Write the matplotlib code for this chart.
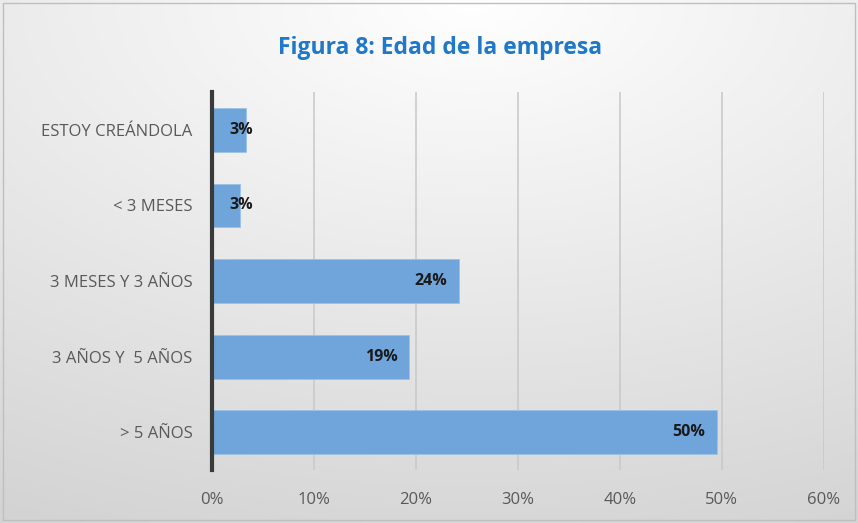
import matplotlib.pyplot as plt
import matplotlib as mpl
import numpy as np

plt.rcParams['font.family'] = ['Open Sans', 'DejaVu Sans']

# Data
categorias = ["ESTOY CREÁNDOLA", "< 3 MESES", "3 MESES Y 3 AÑOS", "3 AÑOS Y  5 AÑOS", "> 5 AÑOS"]
valores = [3.3, 2.8, 24.2, 19.3, 49.5]
etiquetas = ["3%", "3%", "24%", "19%", "50%"]
ticks = [0, 10, 20, 30, 40, 50, 60]

fig = plt.figure(figsize=(8.58, 5.23), dpi=100)

# gradient background (white at top, grey at bottom)
bg = fig.add_axes([0, 0, 1, 1], zorder=-10)
yy, xx = np.mgrid[0:1:200j, 0:1:300j]
dist = np.sqrt(((xx - 0.55) * 1.0) ** 2 + (yy * 1.1) ** 2)
shade = 1.0 - 0.17 * np.clip(dist, 0, 1.2) / 1.2
img = np.dstack([shade, shade, shade])
bg.imshow(img, aspect='auto', extent=[0, 1, 1, 0])
bg.set_xlim(0, 1)
bg.set_ylim(1, 0)
bg.axis('off')
bg.add_patch(mpl.patches.Rectangle((0.004, 0.006), 0.992, 0.988, fill=False,
                                   edgecolor='#bfbfbf', lw=1))

ax = fig.add_axes([0.247, 0.101, 0.713, 0.723])
ax.patch.set_alpha(0)

y = np.arange(len(categorias))
bars = ax.barh(y, valores, height=0.58, color='#6fa5da', edgecolor='#9cc2e8', lw=0.6, zorder=3)

# labels sit just inside the bar end; tiny bars get pushed out a bit (like Excel)
for b, lab in zip(bars, etiquetas):
    xpos = max(b.get_width() - 1.1, 4.0)
    ax.text(xpos, b.get_y() + b.get_height() / 2, lab,
            ha='right', va='center', fontsize=11.5, fontweight='bold', color='#1a1a1a', zorder=4)

ax.set_ylim(len(categorias) - 0.5, -0.5)
ax.set_xlim(0, 60)
ax.set_xticks(ticks)
ax.set_xticklabels([f"{t}%" for t in ticks])
ax.set_yticks(y)
ax.set_yticklabels(categorias)

ax.grid(axis='x', color='#c8c8c8', lw=1.1, zorder=0)
ax.tick_params(axis='both', length=0, labelsize=12, colors='#595959')
ax.tick_params(axis='x', pad=16)
ax.tick_params(axis='y', pad=14)
for s in ['top', 'right', 'bottom']:
    ax.spines[s].set_visible(False)
ax.spines['left'].set_color('#3a3a3a')
ax.spines['left'].set_linewidth(3)
ax.spines['left'].set_zorder(5)

fig.text(0.513, 0.908, "Figura 8: Edad de la empresa", ha='center', va='center',
         fontsize=16.5, fontweight='bold', color='#1f78c8')

fig.savefig("out.png", dpi=100)
